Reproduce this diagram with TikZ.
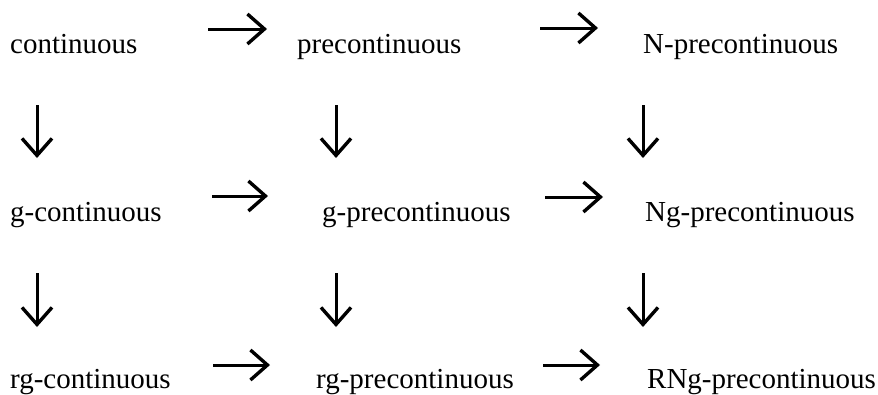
\documentclass[tikz,border=0pt]{standalone}
\usepackage{fontspec}
\setmainfont{Liberation Serif}
\usetikzlibrary{arrows.meta}
\begin{document}
\begin{tikzpicture}[x=1pt,y=-1pt,
  lbl/.style={anchor=base west,inner sep=0pt,font=\fontsize{29}{34}\selectfont},
  imp/.style={line width=3pt,-{Straight Barb[length=17pt,width=30pt,line width=3.4pt]}}]
\useasboundingbox (0,0) rectangle (878,394);
% row 1
\node[lbl] (c)   at (10,53)  {continuous};
\node[lbl] (pc)  at (297,53) {precontinuous};
\node[lbl] (npc) at (643,53) {N-precontinuous};
% row 2
\node[lbl] (gc)   at (10,221)  {g-continuous};
\node[lbl] (gpc)  at (322,221) {g-precontinuous};
\node[lbl] (ngpc) at (645,221) {Ng-precontinuous};
% row 3
\node[lbl] (rgc)   at (10,388)  {rg-continuous};
\node[lbl] (rgpc)  at (316,388) {rg-precontinuous};
\node[lbl] (rngpc) at (647,388) {RNg-precontinuous};
% arrow end points
\coordinate (a1s) at (208,29);  \coordinate (a1e) at (267,29);
\coordinate (a2s) at (540,28);  \coordinate (a2e) at (598,28);
\coordinate (a3s) at (212,196); \coordinate (a3e) at (268,196);
\coordinate (a4s) at (545,197); \coordinate (a4e) at (603,197);
\coordinate (a5s) at (213,365); \coordinate (a5e) at (270,365);
\coordinate (a6s) at (543,365); \coordinate (a6e) at (600,365);
\coordinate (v1s) at (37,105);  \coordinate (v1e) at (37,158);
\coordinate (v2s) at (336,105); \coordinate (v2e) at (336,158);
\coordinate (v3s) at (643,105); \coordinate (v3e) at (643,158);
\coordinate (v4s) at (37,273);  \coordinate (v4e) at (37,327);
\coordinate (v5s) at (336,273); \coordinate (v5e) at (336,327);
\coordinate (v6s) at (643,273); \coordinate (v6e) at (643,327);
\foreach \a in {a1,a2,a3,a4,a5,a6,v1,v2,v3,v4,v5,v6}
  \draw[imp] (\a s) -- (\a e);
\end{tikzpicture}
\end{document}
